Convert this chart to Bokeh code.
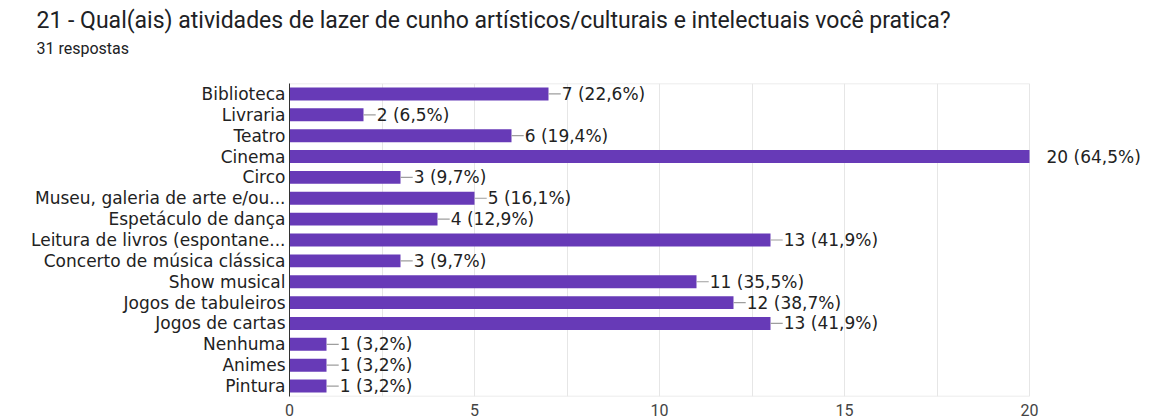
from bokeh.plotting import figure
from bokeh.models import ColumnDataSource, FixedTicker, Title
from bokeh.core.properties import value
from bokeh.embed import file_html
from bokeh.resources import INLINE

title_text = "21 - Qual(ais)  atividades de lazer de cunho artísticos/culturais e intelectuais você pratica?"
subtitle_text = "31 respostas"
total = 31

categories = [
    "Biblioteca", "Livraria", "Teatro", "Cinema", "Circo",
    "Museu, galeria de arte e/ou...", "Espetáculo de dança",
    "Leitura de livros (espontane...", "Concerto de música clássica",
    "Show musical", "Jogos de tabuleiros", "Jogos de cartas",
    "Nenhuma", "Animes", "Pintura",
]
counts = [7, 2, 6, 20, 3, 5, 4, 13, 3, 11, 12, 13, 1, 1, 1]
x_ticks = [0, 5, 10, 15, 20]
x_max = 20

n = len(categories)
pos = [n - 1 - i for i in range(n)]          # first category on top
labels = []
for c in counts:
    pct = f"{100 * c / total:.1f}".replace(".", ",")
    labels.append(f"{c} ({pct}%)")

BAR = "#673ab7"
W, H = 1149, 420
LEFT, RIGHT_GAP = 289, 4
CHART_W = 740                     # pixels between 0 and x_max
frame_w = W - LEFT - RIGHT_GAP
x_end = x_max * frame_w / CHART_W  # room on the right for the labels

lead = 0.33  # leader line length in data units (~12px)
inside = [c + 2.6 < x_max for c in counts]
idx_in = [i for i in range(n) if inside[i]]
idx_out = [i for i in range(n) if not inside[i]]

src = ColumnDataSource(dict(y=pos, v=counts))
src_in = ColumnDataSource(dict(
    y=[pos[i] for i in idx_in],
    v=[counts[i] for i in idx_in],
    v1=[counts[i] + lead for i in idx_in],
    lab=[labels[i] for i in idx_in],
))
src_out = ColumnDataSource(dict(
    y=[pos[i] for i in idx_out],
    v=[counts[i] for i in idx_out],
    lab=[labels[i] for i in idx_out],
))

p = figure(
    width=W, height=H,
    x_range=(0, x_end), y_range=(-0.5, n - 0.5),
    output_backend="svg", toolbar_location=None,
    min_border_left=LEFT, min_border_right=RIGHT_GAP,
    min_border_top=83, min_border_bottom=24,
)

# chart-area frame lines (top / bottom) from 0 to x_max
p.segment(x0=[0, 0], x1=[x_max, x_max], y0=[-0.5, n - 0.5], y1=[-0.5, n - 0.5],
          line_color="#e6e6e6", line_width=1.5)

p.hbar(y="y", right="v", left=0, height=0.62, source=src,
       fill_color=BAR, line_color=None)
p.segment(x0="v", x1="v1", y0="y", y1="y", source=src_in,
          line_color="#9e9e9e", line_width=1.2)
p.text(x="v1", y="y", text="lab", source=src_in, x_offset=1,
       text_baseline="middle", text_align="left",
       text_font=value("DejaVu Sans"), text_font_size="17px",
       text_color="#222222")
p.text(x="v", y="y", text="lab", source=src_out, x_offset=17,
       text_baseline="middle", text_align="left",
       text_font=value("DejaVu Sans"), text_font_size="17px",
       text_color="#222222")

# axes
p.xaxis.ticker = FixedTicker(ticks=x_ticks)
p.xaxis.axis_line_color = None
p.xaxis.major_tick_line_color = None
p.xaxis.minor_tick_line_color = None
p.xaxis.major_tick_out = 0
p.xaxis.major_tick_in = 0
p.xaxis.minor_tick_out = 0
p.xaxis.major_label_text_font = "Roboto"
p.xaxis.major_label_text_font_size = "16px"
p.xaxis.major_label_text_color = "#444444"
p.xaxis.major_label_standoff = 7

p.yaxis.ticker = FixedTicker(ticks=pos)
p.yaxis.major_label_overrides = {pos[i]: categories[i] for i in range(n)}
p.yaxis.axis_line_color = "#333333"
p.yaxis.major_tick_line_color = None
p.yaxis.minor_tick_line_color = None
p.yaxis.major_tick_out = 0
p.yaxis.major_tick_in = 0
p.yaxis.minor_tick_out = 0
p.yaxis.major_label_text_font = "DejaVu Sans"
p.yaxis.major_label_text_font_size = "17px"
p.yaxis.major_label_text_color = "#222222"
p.yaxis.major_label_standoff = 4

p.xgrid.ticker = FixedTicker(ticks=[i * 2.5 for i in range(9)])
p.xgrid.grid_line_color = "#e6e6e6"
p.ygrid.grid_line_color = None
p.outline_line_color = None

# above panels: spacer (closest to plot), subtitle, main title
p.add_layout(Title(text=" ", standoff=22, text_font_size="1px"), "above")
p.add_layout(Title(text=subtitle_text, align="left", offset=-253, standoff=2,
                   text_font="Roboto", text_font_size="16px",
                   text_font_style="normal", text_color="#202124"), "above")
p.add_layout(Title(text=title_text, align="left", offset=-253, standoff=3,
                   text_font="Roboto", text_font_size="23px",
                   text_font_style="normal", text_color="#202124"), "above")

open("out.html", "w").write(file_html(p, INLINE))
